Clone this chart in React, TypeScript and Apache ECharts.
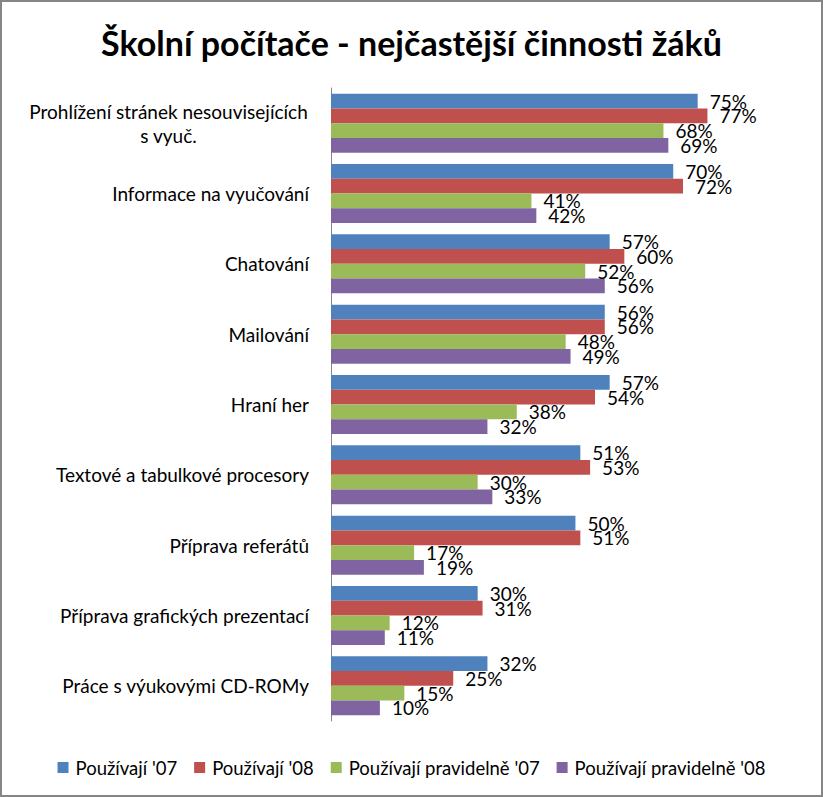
import React, { useEffect, useRef } from "react";
import * as echarts from "echarts";

const categories = [
  "Prohlížení stránek nesouvisejících\ns vyuč.",
  "Informace na vyučování",
  "Chatování",
  "Mailování",
  "Hraní her",
  "Textové a tabulkové procesory",
  "Příprava referátů",
  "Příprava grafických prezentací",
  "Práce s výukovými CD-ROMy",
];
const seriesNames = ["Používají '07", "Používají '08", "Používají pravidelně '07", "Používají pravidelně '08"];
const pouzivaji07 = [75, 70, 57, 56, 57, 51, 50, 30, 32];
const pouzivaji08 = [77, 72, 60, 56, 54, 53, 51, 31, 25];
const pravidelne07 = [68, 41, 52, 48, 38, 30, 17, 12, 15];
const pravidelne08 = [69, 42, 56, 49, 32, 33, 19, 11, 10];
const colors = ["#4F81BD", "#C0504D", "#9BBB59", "#8064A2"];

const FONT = "Lato";

export default function App() {
  const ref = useRef<HTMLDivElement>(null);
  useEffect(() => {
    if (!ref.current) return;
    const chart = echarts.init(ref.current, null, { renderer: "svg" });
    const labelSize = 19;
    const ctx = document.createElement("canvas").getContext("2d")!;
    ctx.font = `${labelSize}px ${FONT}`;
    const w1 = Math.ceil(ctx.measureText("Prohlížení stránek nesouvisejících").width) + 2;
    const data = [pouzivaji07, pouzivaji08, pravidelne07, pravidelne08];
    chart.setOption({
      animation: false,
      textStyle: { fontFamily: FONT },
      title: {
        text: "Školní počítače - nejčastější činnosti žáků",
        left: "center",
        top: 20,
        textStyle: { fontSize: 34, fontWeight: "bold", color: "#000", fontFamily: FONT },
      },
      graphic: [
        {
          type: "rect",
          shape: { x: 1, y: 1, width: 821, height: 795 },
          style: { fill: "none", stroke: "#868686", lineWidth: 2 },
          silent: true,
        },
      ],
      legend: {
        top: 753,
        left: "center",
        icon: "rect",
        itemWidth: 11,
        itemHeight: 11,
        itemGap: 17,
        textStyle: { fontSize: 18.5, color: "#000", fontFamily: FONT, padding: [0, 0, 0, 2] },
        data: seriesNames,
      },
      grid: { left: 331, top: 88, width: 440, height: 633, containLabel: false },
      xAxis: {
        type: "value",
        min: 0,
        max: 90,
        show: false,
        splitLine: { show: false },
      },
      yAxis: {
        type: "category",
        inverse: true,
        data: categories,
        axisLine: { show: true, lineStyle: { color: "#868686", width: 1 } },
        axisTick: { show: false },
        axisLabel: {
          margin: 22,
          fontSize: labelSize,
          color: "#000",
          fontFamily: FONT,
          formatter: (v: string) => {
            if (v.includes("\n")) {
              const [a, b] = v.split("\n");
              return `{c|${a}}\n{c|${b}}`;
            }
            return v;
          },
          rich: {
            c: { width: w1, align: "center", fontSize: labelSize, lineHeight: 24, color: "#000", fontFamily: FONT },
          },
        },
      },
      series: data.map((d, i) => ({
        name: seriesNames[i],
        type: "bar",
        data: d,
        barGap: "0%",
        barCategoryGap: "16%",
        itemStyle: { color: colors[i] },
        label: {
          show: true,
          position: "right",
          distance: 12,
          formatter: "{c}%",
          fontSize: 19,
          color: "#000",
          fontFamily: FONT,
        },
      })),
    });
    return () => chart.dispose();
  }, []);
  return (
    <div
      ref={ref}
      style={{ position: "absolute", left: 0, top: 0, width: 823, height: 797, background: "#fff" }}
    />
  );
}
